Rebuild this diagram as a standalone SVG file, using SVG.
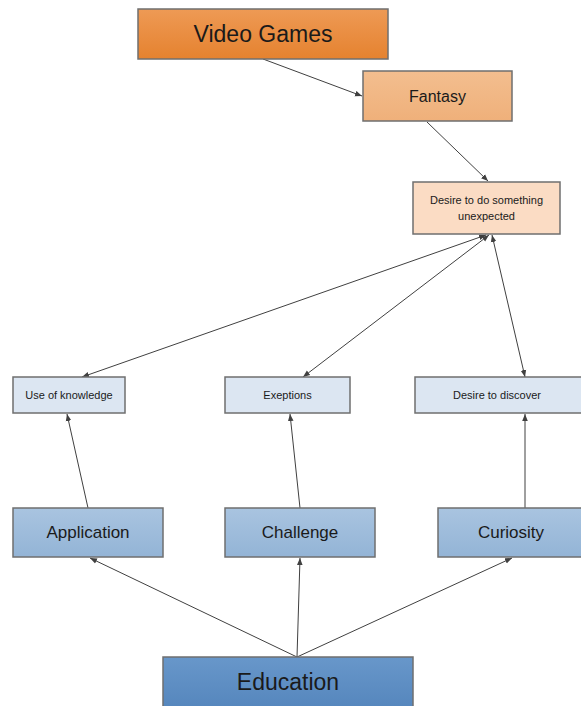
<svg xmlns="http://www.w3.org/2000/svg" width="581" height="706" viewBox="0 0 581 706">
<style>
.box{stroke:#6f6f6f;stroke-width:1.5}
.t{font-family:"Liberation Sans",Arial,sans-serif;fill:#1a1a1a;text-anchor:middle}
.c{stroke:#404040;stroke-width:1;fill:none;marker-end:url(#ah)}
.d{marker-start:url(#as)}
</style>
<defs>
<linearGradient id="gOr" x1="0" y1="0" x2="0" y2="1"><stop offset="0" stop-color="#EE9A55"/><stop offset="1" stop-color="#E5822F"/></linearGradient>
<linearGradient id="gFa" x1="0" y1="0" x2="0" y2="1"><stop offset="0" stop-color="#F3BE8F"/><stop offset="1" stop-color="#EFB07A"/></linearGradient>
<linearGradient id="gBl" x1="0" y1="0" x2="0" y2="1"><stop offset="0" stop-color="#A9C4E0"/><stop offset="1" stop-color="#93B4D6"/></linearGradient>
<linearGradient id="gEd" x1="0" y1="0" x2="0" y2="1"><stop offset="0" stop-color="#6897CA"/><stop offset="1" stop-color="#5485BC"/></linearGradient>
<marker id="ah" viewBox="0 0 10 10" refX="10" refY="5" markerWidth="7" markerHeight="7" orient="auto" markerUnits="userSpaceOnUse"><path d="M0,1 L10,5 L0,9 z" fill="#404040"/></marker>
<marker id="as" viewBox="0 0 10 10" refX="0" refY="5" markerWidth="7" markerHeight="7" orient="auto" markerUnits="userSpaceOnUse"><path d="M10,1 L0,5 L10,9 z" fill="#404040"/></marker>
</defs>
<g id="connectors">
<line class="c" x1="263" y1="59" x2="362" y2="96"/>
<line class="c" x1="427" y1="122" x2="488" y2="181"/>
<line class="c d" x1="82" y1="377" x2="486" y2="235"/>
<line class="c d" x1="303" y1="377" x2="489" y2="235"/>
<line class="c d" x1="525" y1="377" x2="492" y2="235"/>
<line class="c" x1="88" y1="508" x2="67" y2="414"/>
<line class="c" x1="300" y1="508" x2="290" y2="414"/>
<line class="c" x1="525" y1="508" x2="525" y2="414"/>
<line class="c" x1="297" y1="657" x2="90" y2="558"/>
<line class="c" x1="297" y1="657" x2="300" y2="558"/>
<line class="c" x1="297" y1="657" x2="512" y2="558"/>
</g>
<g id="video-games"><rect class="box" x="138" y="9" width="250" height="50" fill="url(#gOr)"/><text class="t" x="263" y="42" font-size="23">Video Games</text></g>
<g id="fantasy"><rect class="box" x="363" y="71" width="149" height="50" fill="url(#gFa)"/><text class="t" x="437.5" y="102" font-size="16">Fantasy</text></g>
<g id="desire-unexpected"><rect class="box" x="413" y="182" width="147" height="52" fill="#FBDCC4"/><text class="t" x="486.5" y="204" font-size="11">Desire to do something</text><text class="t" x="486.5" y="220" font-size="11">unexpected</text></g>
<g id="use-of-knowledge"><rect class="box" x="13" y="377" width="112" height="36" fill="#DCE6F2"/><text class="t" x="69" y="399" font-size="11">Use of knowledge</text></g>
<g id="exeptions"><rect class="box" x="225" y="377" width="125" height="36" fill="#DCE6F2"/><text class="t" x="287.5" y="399" font-size="11">Exeptions</text></g>
<g id="desire-discover"><rect class="box" x="415" y="377" width="170" height="36" fill="#DCE6F2"/><text class="t" x="497" y="399" font-size="11">Desire to discover</text></g>
<g id="application"><rect class="box" x="13" y="508" width="150" height="49" fill="url(#gBl)"/><text class="t" x="88" y="538" font-size="17">Application</text></g>
<g id="challenge"><rect class="box" x="225" y="508" width="150" height="49" fill="url(#gBl)"/><text class="t" x="300" y="538" font-size="17">Challenge</text></g>
<g id="curiosity"><rect class="box" x="438" y="508" width="150" height="49" fill="url(#gBl)"/><text class="t" x="511" y="538" font-size="17">Curiosity</text></g>
<g id="education"><rect class="box" x="163" y="657" width="250" height="55" fill="url(#gEd)"/><text class="t" x="288" y="690" font-size="23">Education</text></g>
</svg>
